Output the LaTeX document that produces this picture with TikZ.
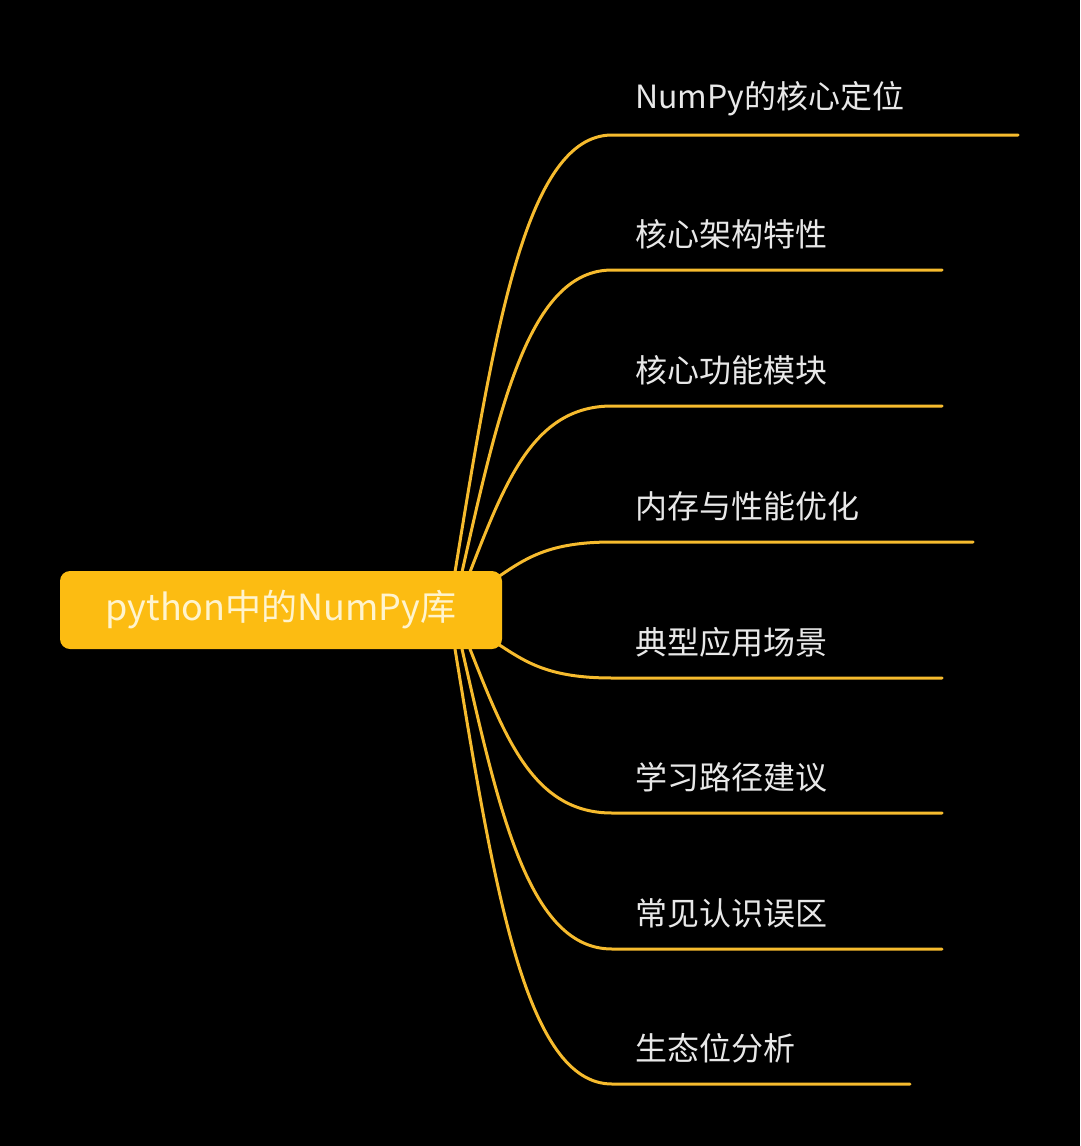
\documentclass[tikz,border=0pt]{standalone}
\usepackage{fontspec}
\setmainfont{Noto Sans CJK SC}
\definecolor{gold}{RGB}{246,187,46}
\definecolor{rootfill}{RGB}{252,188,18}
\definecolor{roottext}{RGB}{255,244,206}
\definecolor{labeltext}{RGB}{232,232,232}
\tikzset{
  branch/.style={draw=gold, line width=3pt, line cap=round},
  rootbox/.style={fill=rootfill, rounded corners=10pt, minimum width=442pt, minimum height=78pt, inner sep=0pt, text=roottext, font=\fontsize{36}{36}\selectfont},
  leaflabel/.style={anchor=west, inner sep=0pt, text=labeltext, font=\fontsize{32}{32}\selectfont}
}
\begin{document}
\begin{tikzpicture}[x=1pt,y=-1pt]
\fill[black] (0,0) rectangle (1080,1146);
\useasboundingbox (0,0) rectangle (1080,1146);
\foreach \i/\yy/\xe/\sx/\sy/\txt in {
  1/135/1018/455/572/{NumPy的核心定位},
  2/270/942/462/572/{核心架构特性},
  3/406/942/470/572/{核心功能模块},
  4/542/973/498/577/{内存与性能优化},
  5/678/942/498/644/{典型应用场景},
  6/813/942/470/649/{学习路径建议},
  7/949/942/462/649/{常见认识误区},
  8/1084/910/455/649/{生态位分析}} {
  \coordinate (s\i) at (\sx,\sy);
  \coordinate (h\i) at (612,\yy);
  \coordinate (e\i) at (\xe,\yy);
  \node[leaflabel] (t\i) at (635,\yy-36) {\txt};
  \draw[branch] (s\i) .. controls ({\sx+0.25*(612-\sx)},{\sy+0.55*(\yy-\sy)}) and ({\sx+0.45*(612-\sx)},\yy) .. (h\i) -- (e\i);
}
\node[rootbox] (root) at (281,610) {python中的NumPy库};
\end{tikzpicture}
\end{document}
